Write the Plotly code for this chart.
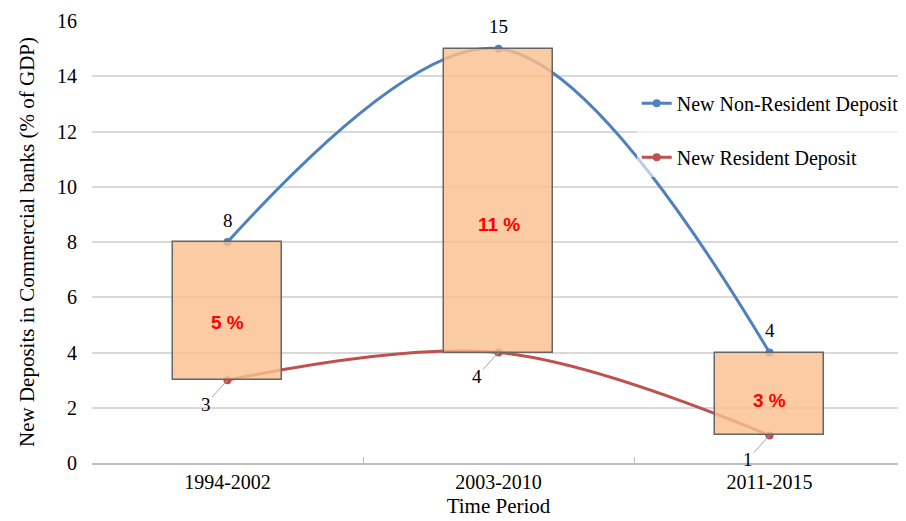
import plotly.graph_objects as go

periods = ["1994-2002", "2003-2010", "2011-2015"]
non_resident = [8, 15, 4]
resident = [3, 4, 1]
gap_labels = ["5 %", "11 %", "3 %"]

blue = "#4F81BD"
red = "#C0504D"
serif = "Times New Roman"

fig = go.Figure()

fig.add_trace(
    go.Scatter(
        x=periods,
        y=non_resident,
        name="New Non-Resident Deposit",
        mode="lines+markers",
        line=dict(color=blue, width=3, shape="spline", smoothing=1),
        marker=dict(size=8, color=blue),
        legendgroup="a"
    )
)

fig.add_trace(
    go.Scatter(
        x=periods,
        y=resident,
        name="New Resident Deposit",
        mode="lines+markers",
        line=dict(color=red, width=3, shape="spline", smoothing=1),
        marker=dict(size=8, color=red),
        legendgroup="b"
    )
)

# floating bars, on an overlaid axis so they sit above the lines
fig.add_trace(
    go.Bar(
        x=periods,
        y=[n - r for n, r in zip(non_resident, resident)],
        base=resident,
        width=0.4,
        marker=dict(color="rgba(250,192,144,0.82)",
                    line=dict(color="#666666", width=1.5)),
        xaxis="x2",
        yaxis="y2",
        showlegend=False,
        hoverinfo="skip"
    )
)

for p, n, r, lab in zip(periods, non_resident, resident, gap_labels):
    fig.add_annotation(
        x=p, y=n, text=str(n), showarrow=False, yshift=22,
        font=dict(family=serif, size=19, color="#000000")
    )
    fig.add_annotation(
        x=p, y=r, text=str(r), showarrow=True, arrowhead=0,
        arrowcolor="#A6A6A6", arrowwidth=1, ax=-22, ay=24,
        font=dict(family=serif, size=19, color="#000000")
    )
    fig.add_annotation(
        x=p, y=r + 0.42 * (n - r), text="<b>" + lab + "</b>", showarrow=False,
        font=dict(family="Liberation Sans, Arial, sans-serif", size=19, color="#FF0000")
    )

# page has an 8px body margin, so the figure is 8px smaller and shifted
fig.update_layout(
    width=898,
    height=513,
    margin=dict(l=84, r=1, t=13, b=58),
    plot_bgcolor="white",
    paper_bgcolor="white",
    font=dict(family=serif, size=18, color="#000000"),
    bargap=0,
    legend=dict(
        x=0.67, y=0.858, xanchor="left", yanchor="top",
        bgcolor="rgba(255,255,255,0.6)",
        traceorder="grouped", tracegroupgap=25,
        font=dict(family=serif, size=20)
    ),
    xaxis=dict(
        range=[-0.5, 2.5],
        showline=True, linecolor="#BFBFBF", linewidth=1.5,
        ticks="inside", ticklen=6, tickcolor="#BFBFBF", tickson="boundaries",
        showgrid=False,
        title=dict(text="Time Period", standoff=7, font=dict(family=serif, size=21)),
        tickfont=dict(family=serif, size=20)
    ),
    yaxis=dict(
        range=[0, 16], dtick=2,
        showgrid=True, gridcolor="#D9D9D9", gridwidth=1.5,
        zeroline=False, showline=False,
        ticklabelstandoff=14,
        title=dict(text="New Deposits in Commercial banks (% of GDP)", standoff=16,
                   font=dict(family=serif, size=21)),
        tickfont=dict(family=serif, size=20)
    ),
    xaxis2=dict(overlaying="x", range=[-0.5, 2.5], visible=False,
                type="category", categoryarray=periods),
    yaxis2=dict(overlaying="y", range=[0, 16], visible=False)
)

fig.write_html("out.html")
